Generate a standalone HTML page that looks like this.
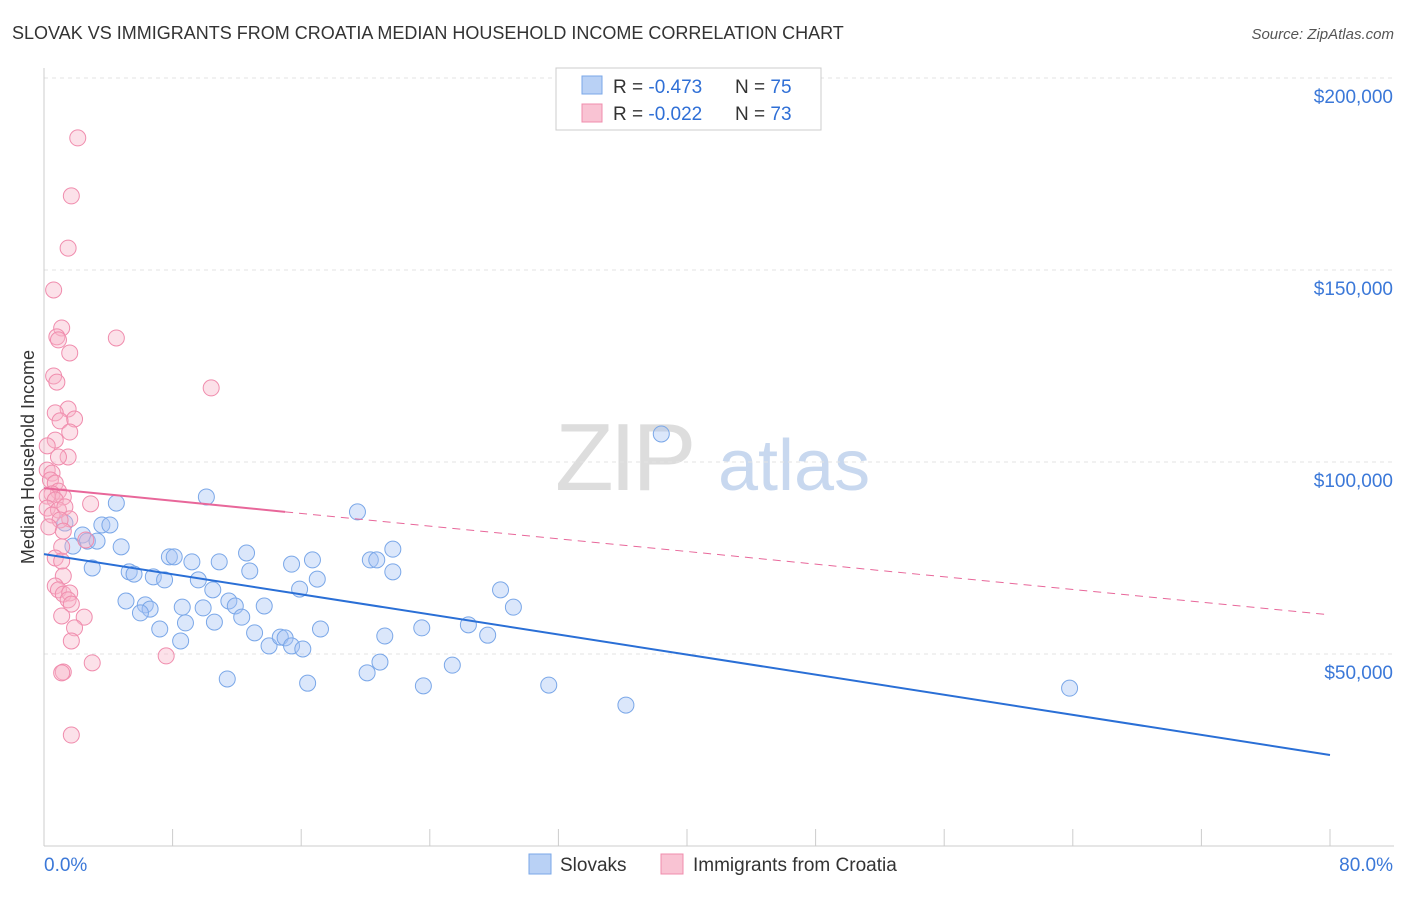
<!DOCTYPE html>
<html><head><meta charset="utf-8"><style>
body{margin:0;background:#fff;font-family:"Liberation Sans",sans-serif;}
svg text{font-family:"Liberation Sans",sans-serif;}
</style></head><body>
<svg id="chart" width="1406" height="892" xmlns="http://www.w3.org/2000/svg">
<text x="12" y="39" font-size="18" fill="#333">SLOVAK VS IMMIGRANTS FROM CROATIA MEDIAN HOUSEHOLD INCOME CORRELATION CHART</text>
<text x="1394" y="39" font-size="15" fill="#555" font-style="italic" text-anchor="end">Source: ZipAtlas.com</text>
<g>
<text x="555" y="490" font-size="96" fill="#ddd" font-family="Liberation Serif" letter-spacing="-4">ZIP</text>
<text x="718" y="490" font-size="72" fill="#c8d8ef">atlas</text>
</g>
<g id="grid"></g>
<g id="axes"></g>
<text transform="translate(34,457) rotate(-90)" font-size="18" fill="#333" text-anchor="middle">Median Household Income</text>
<g id="series"></g>
<g>
<rect x="556" y="68" width="265" height="62" fill="#fff" stroke="#ccc"/>
<rect x="582" y="76" width="20" height="18" fill="#b9d1f5" stroke="#7aa7e8"/>
<rect x="582" y="104" width="20" height="18" fill="#f9c3d3" stroke="#f08cad"/>
<text x="613" y="93" font-size="19" fill="#333">R = <tspan fill="#2f6fd6">-0.473</tspan></text>
<text x="735" y="93" font-size="19" fill="#333">N = <tspan fill="#2f6fd6">75</tspan></text>
<text x="613" y="120" font-size="19" fill="#333">R = <tspan fill="#2f6fd6">-0.022</tspan></text>
<text x="735" y="120" font-size="19" fill="#333">N = <tspan fill="#2f6fd6">73</tspan></text>
</g>
<g>
<rect x="529" y="854" width="22" height="20" fill="#b9d1f5" stroke="#7aa7e8"/>
<text x="560" y="871" font-size="19" fill="#333">Slovaks</text>
<rect x="661" y="854" width="22" height="20" fill="#f9c3d3" stroke="#f08cad"/>
<text x="693" y="871" font-size="19" fill="#333">Immigrants from Croatia</text>
</g>
</svg>
<script>
const yTicks=[50000,100000,150000,200000];
const yTickLabels=["$50,000","$100,000","$150,000","$200,000"];
const xTickLabels=["0.0%","80.0%"];
const blueX=[38.4,10.1,19.5,4.5,1.3,3.6,4.1,2.4,2.7,3.3,1.8,4.8,3.0,5.3,5.6,6.8,7.5,7.8,8.1,9.2,9.6,10.9,12.6,12.8,10.5,5.1,6.3,6.6,6.0,8.6,9.9,11.5,11.9,13.7,12.3,7.2,8.8,10.6,8.5,13.1,14.0,14.7,15.0,15.4,16.1,15.4,16.7,17.0,15.9,17.2,11.4,16.4,20.3,20.7,21.7,21.7,21.2,20.9,20.1,23.6,23.5,25.4,26.4,27.6,28.4,29.2,31.4,36.2,63.8];
const blueY=[107.3,90.9,87.0,89.3,84.1,83.6,83.6,81.0,79.4,79.4,78.1,77.9,72.4,71.4,70.8,70.1,69.3,75.3,75.3,74.0,69.3,74.0,76.3,71.6,66.7,63.8,62.8,61.7,60.7,62.2,62.0,63.8,62.5,62.5,59.6,56.5,58.1,58.3,53.4,55.5,52.1,54.4,54.2,52.1,51.3,73.4,74.5,69.5,66.9,56.5,43.5,42.4,74.5,74.5,77.3,71.4,54.7,47.9,45.1,41.7,56.8,47.1,57.6,54.9,66.7,62.2,41.9,36.7,41.1];
const pinkX=[2.1,1.7,1.5,0.6,4.5,1.1,0.8,0.9,1.6,10.4,0.6,0.8,1.5,0.7,1.9,1.0,1.6,0.7,0.2,1.5,0.9,0.2,0.5,0.4,0.7,0.9,0.5,0.2,1.2,0.7,2.9,0.2,0.9,1.3,0.5,1.6,1.0,0.3,1.2,2.6,1.1,0.7,1.1,1.2,0.7,0.9,1.2,1.6,1.5,1.7,1.1,2.5,1.9,1.7,7.6,3.0,1.2,1.1,1.7];
const pinkY=[184.4,169.3,155.7,144.8,132.3,134.9,132.6,131.8,128.4,119.3,122.4,120.8,113.8,112.8,111.2,110.7,107.8,105.7,104.2,101.3,101.3,97.9,97.1,95.3,94.5,92.4,91.7,91.1,90.9,90.1,89.1,88.0,87.5,88.3,86.2,85.2,84.9,83.1,82.0,79.7,77.9,75.0,74.2,70.3,67.7,66.7,65.6,65.9,64.1,63.0,59.9,59.6,56.8,53.4,49.5,47.7,45.3,45.1,28.9];
const blueTrend=[76.0,23.7];
const pinkTrend=[93.2,60.2];
const pinkSolidEnd=15;
const X=v=>44+v*16.075, Y=v=>846-v*3.84;
const NS="http://www.w3.org/2000/svg";
function mk(tag,attrs,parent){const e=document.createElementNS(NS,tag);for(const k in attrs)e.setAttribute(k,attrs[k]);parent.appendChild(e);return e;}
const grid=document.getElementById('grid'),axes=document.getElementById('axes'),series=document.getElementById('series');
yTicks.forEach((t,i)=>{
 const l=mk('line',{x1:44,x2:1394,y1:Y(t/1000),y2:Y(t/1000),stroke:'#e3e3e3','stroke-dasharray':'4,4'},grid);
 
 
 const tx=mk('text',{x:1393,y:Y(t/1000)+25,'font-size':19,fill:'#3b78d8','text-anchor':'end'},axes);
 tx.textContent=yTickLabels[i];
 
 
});
mk('line',{x1:44,x2:44,y1:68,y2:846,stroke:'#ccc'},axes);
mk('line',{x1:44,x2:1394,y1:846,y2:846,stroke:'#ccc'},axes);
for(let i=0;i<=10;i++){const t=mk('line',{x1:X(i*8),x2:X(i*8),y1:829,y2:846,stroke:'#ccc'},axes);
 
 }
const xl0=mk('text',{x:44,y:871,'font-size':19,fill:'#3b78d8'},axes);xl0.textContent=xTickLabels[0];


const xl1=mk('text',{x:1393,y:871,'font-size':19,fill:'#3b78d8','text-anchor':'end'},axes);xl1.textContent=xTickLabels[1];


blueX.forEach((x,i)=>{const c=mk('circle',{cx:X(x),cy:Y(blueY[i]),r:8,fill:'rgba(164,194,244,0.4)',stroke:'#7aa7e8','stroke-width':1},series);
 
 });
pinkX.forEach((x,i)=>{const c=mk('circle',{cx:X(x),cy:Y(pinkY[i]),r:8,fill:'rgba(248,180,200,0.4)',stroke:'#f08cad','stroke-width':1},series);
 
 });
const bt=mk('line',{x1:X(0),y1:Y(blueTrend[0]),x2:X(80),y2:Y(blueTrend[1]),stroke:'#2a6fd6','stroke-width':2},series);


const pAt=x=>pinkTrend[0]+(pinkTrend[1]-pinkTrend[0])*x/80;
const ps=mk('line',{x1:X(0),y1:Y(pAt(0)),x2:X(pinkSolidEnd),y2:Y(pAt(pinkSolidEnd)),stroke:'#e8679a','stroke-width':2},series);


const pd=mk('line',{x1:X(pinkSolidEnd),y1:Y(pAt(pinkSolidEnd)),x2:X(80),y2:Y(pAt(80)),stroke:'#e8679a','stroke-width':1,'stroke-dasharray':'8,6'},series);


</script>
</body></html>
